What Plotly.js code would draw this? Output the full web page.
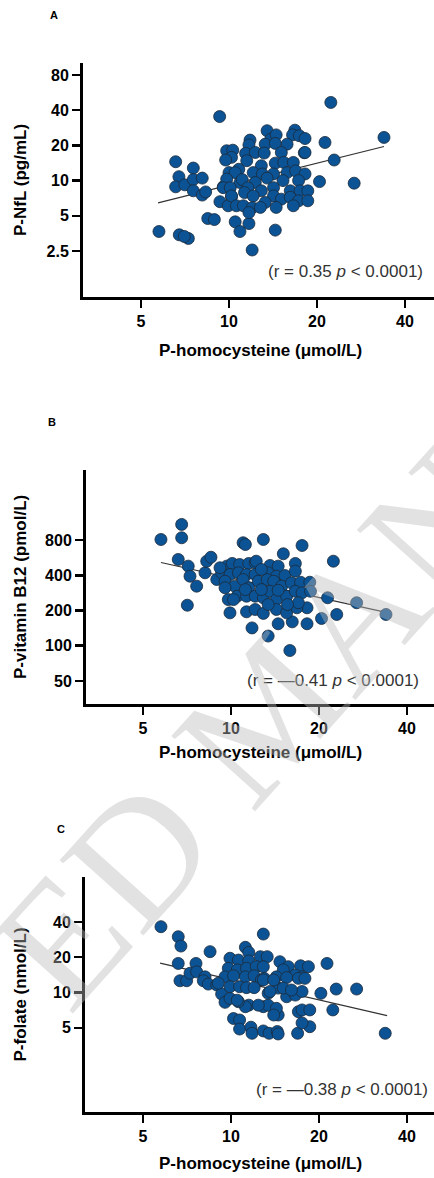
<!DOCTYPE html>
<html>
<head>
<meta charset="utf-8">
<script src="https://cdn.plot.ly/plotly-3.0.1.min.js"></script>
<style>html,body{margin:0;padding:0;background:#fff;}#chart{width:434px;height:1178px;}</style>
</head>
<body>
<div id="chart"></div>
<script>
// ---------- Panel A: P-homocysteine vs P-NfL ----------
const hcyA = [22.3, 9.29, 33.9, 21.3, 22.9, 26.8, 20.4, 18.1, 6.57, 7.55,
  6.74, 6.57, 7.06, 7.55, 8.10, 7.55, 8.10, 8.32, 5.76, 6.76,
  7.26, 7.03, 8.46, 8.91, 10.5, 10.9, 11.7, 14.4, 12.0, 9.56,
  9.31, 10.2, 9.94,
  13.5, 13.9, 14.5, 16.8, 16.5, 17.4, 18.2, 15.8, 11.8, 11.7,
  13.3, 14.4, 9.82, 10.3, 10.2, 9.74, 11.4, 12.3, 13.2, 15.1,
  18.2, 14.4, 15.4, 16.6, 11.5, 12.9, 10.8, 10.0, 10.5, 12.1,
  13.0, 14.2, 15.8, 16.9, 18.2, 17.3, 15.3, 13.5, 12.3, 10.9,
  11.1, 9.82, 9.56, 10.1, 11.6, 12.9, 14.2, 16.2, 17.5, 18.6,
  10.2, 11.3, 12.1, 14.2, 15.1, 16.2, 17.3, 18.6, 10.6, 11.2,
  12.0, 13.3, 12.8, 14.5, 16.6, 11.7];
const nflA = [46.6, 35.3, 23.4, 21.2, 15.0, 9.5, 9.8, 17.3, 14.5, 12.8,
  10.8, 8.85, 9.2, 10.2, 10.5, 8.18, 7.52, 8.0, 3.67, 3.44,
  3.20, 3.33, 4.74, 4.64, 4.44, 3.67, 4.29, 3.77, 2.55, 8.85,
  6.6, 7.3, 6.09,
  26.7, 22.6, 24.6, 27.0, 24.6, 24.2, 22.9, 20.5, 22.2, 20.2,
  20.5, 20.8, 18.0, 18.2, 15.8, 15.0, 17.1, 17.4, 17.2, 17.4,
  17.4, 14.1, 14.3, 14.3, 14.8, 13.4, 12.5, 11.7, 11.7, 11.7,
  11.4, 11.4, 11.7, 12.1, 11.4, 10.0, 10.0, 10.5, 9.63, 9.63,
  10.2, 10.3, 8.7, 8.7, 8.7, 8.18, 8.7, 8.18, 8.18, 8.18,
  7.4, 7.9, 7.4, 7.4, 6.94, 7.2, 6.72, 6.72, 6.09, 6.09,
  5.85, 6.5, 5.9, 5.9, 6.09, 5.33];
const fitA_x = [5.72, 33.9];
const fitA_y = [6.45, 19.6];

// ---------- Panel B: P-homocysteine vs P-vitamin B12 ----------
const hcyB = [6.78, 5.76, 6.78, 12.9, 11.0, 11.2, 17.5, 15.1, 22.4, 6.6,
  7.14, 7.24, 7.63, 8.15, 8.26, 8.54, 8.94, 7.09, 21.4, 26.9,
  33.9, 23.0, 20.4, 18.2, 18.2, 16.2, 14.5, 11.8, 13.4, 15.9,
  9.92, 11.3, 12.1, 12.9,
  9.67, 10.1, 10.7, 11.5, 12.1, 13.6, 14.5, 16.6, 9.29, 9.92,
  10.6, 11.3, 12.1, 13.4, 14.3, 15.3, 16.6, 9.54, 10.3, 11.0,
  11.5, 12.4, 13.3, 14.0, 14.9, 16.1, 17.3, 18.6, 9.79, 10.5,
  11.3, 12.1, 12.9, 13.6, 14.3, 15.5, 16.6, 17.5, 18.7, 14.5,
  14.3, 15.5, 16.8, 9.17, 12.2, 9.54, 10.2, 17.0, 12.7, 11.2,
  12.7, 15.6, 13.4];
const b12B = [1088, 809, 837, 809, 759, 733, 719, 611, 528, 546,
  479, 393, 323, 420, 528, 571, 368, 222, 257, 233,
  185, 185, 171, 154, 211, 160, 154, 142, 121, 91,
  191, 195, 204, 189,
  479, 505, 495, 505, 512, 485, 479, 505, 420, 406,
  420, 406, 406, 420, 393, 398, 434, 356, 323, 368,
  313, 356, 368, 356, 323, 345, 349, 349, 248, 265,
  265, 265, 257, 292, 248, 265, 292, 283, 292, 298,
  204, 191, 211, 464, 528, 313, 248, 233, 449, 302,
  302, 225, 225];
const fitB_x = [5.76, 34.2];
const fitB_y = [514, 192];

// ---------- Panel C: P-homocysteine vs P-folate ----------
const hcyC = [5.76, 6.6, 6.74, 12.9, 8.48, 11.2, 6.6, 7.59, 6.69, 7.05,
  7.24, 7.63, 8.15, 8.04, 8.36, 8.94, 9.29, 9.54, 21.3, 20.3,
  22.9, 26.9, 22.3, 33.7, 10.2, 10.7, 10.7, 11.7, 11.8, 12.9,
  13.5, 14.4, 14.5, 16.9, 18.6, 17.5, 17.0, 17.5, 14.5, 14.1,
  12.9, 13.4, 11.5, 11.2, 10.6,
  11.5, 9.92, 10.6, 11.5, 12.6, 13.3, 14.7, 15.7, 17.3, 18.4,
  9.79, 10.5, 11.3, 12.2, 12.9, 15.1, 16.6, 17.5, 9.54, 10.2,
  11.2, 12.0, 12.7, 13.0, 14.3, 15.5, 17.0, 17.9, 9.05, 9.92,
  10.7, 11.3, 12.0, 13.4, 14.5, 15.5, 16.6, 17.5, 9.92, 10.5,
  12.4, 14.3, 18.6, 14.0, 12.9, 14.0, 15.1, 16.1, 13.6];
const folC = [36.4, 29.9, 24.9, 31.5, 22.3, 24.3, 17.7, 17.7, 12.6, 12.6,
  14.6, 15.0, 13.6, 12.6, 11.8, 11.6, 9.7, 8.25, 17.7, 9.84,
  10.7, 10.7, 7.1, 4.49, 6.0, 5.83, 4.88, 5.06, 4.49, 4.7,
  4.49, 4.65, 4.43, 4.49, 5.11, 5.5, 6.86, 7.1, 6.43, 7.1,
  7.57, 7.8, 7.8, 7.57, 8.35,
  22.0, 19.6, 18.9, 18.6, 20.2, 20.2, 18.3, 16.6, 16.9, 16.6,
  16.1, 15.6, 16.1, 16.6, 16.6, 15.6, 14.1, 13.6, 13.6, 13.9,
  13.6, 13.9, 12.8, 13.2, 13.6, 13.4, 13.2, 13.2, 12.0, 11.2,
  11.2, 11.0, 11.0, 9.84, 10.9, 9.2, 9.5, 10.2, 8.9, 8.6,
  7.8, 7.33, 7.1, 6.43, 12.8, 12.8, 10.9, 10.5, 10.2];
const fitC_x = [5.72, 34.2];
const fitC_y = [17.8, 6.35];

// ---------- Tick labels & texts ----------
const xTicks = [5, 10, 20, 40];
const yTicksA = [2.5, 5, 10, 20, 40, 80];
const yTicksB = [50, 100, 200, 400, 800];
const yTicksC = [5, 10, 20, 40];
const xTitle = 'P-homocysteine (μmol/L)';
const yTitles = ['P-NfL (pg/mL)', 'P-vitamin B12 (pmol/L)', 'P-folate (nmol/L)'];
const panelLabels = ['A', 'B', 'C'];
const statTexts = ['(r = 0.35 <i>p</i> < 0.0001)', '(r = —0.41 <i>p</i> < 0.0001)', '(r = —0.38 <i>p</i> < 0.0001)'];
const watermark = 'ED MAN';

// ---------- Layout geometry (pixels) ----------
const W = 434, H = 1178;
const px = v => v / W, py = v => 1 - v / H;
const FONT = 'Liberation Sans, Arial, Helvetica, sans-serif';
const MARK = '#0b5394';

function pts(x, y, n) {
  return {x: x, y: y, type: 'scatter', mode: 'markers', xaxis: 'x' + n, yaxis: 'y' + n,
    marker: {size: 12, color: MARK, line: {color: '#1c2a3a', width: 0.8}}, hoverinfo: 'skip'};
}
function fit(x, y, n) {
  return {x: x, y: y, type: 'scatter', mode: 'lines', xaxis: 'x' + n, yaxis: 'y' + n,
    line: {color: '#333', width: 1.1}, hoverinfo: 'skip'};
}
const data = [
  fit(fitA_x, fitA_y, ''), pts(hcyA, nflA, ''),
  fit(fitB_x, fitB_y, '2'), pts(hcyB, b12B, '2'),
  fit(fitC_x, fitC_y, '3'), pts(hcyC, folC, '3')
];

const tickFont = {family: FONT, size: 16, color: '#000', weight: 'bold'};
function xax(left, xLeftPx, anchor) {
  const l10 = Math.log10(2);
  const r0 = Math.log10(5) - (left - xLeftPx) / 88 * l10;
  const r1 = r0 + (W - xLeftPx) / 88 * l10;
  return {type: 'log', domain: [px(xLeftPx), 1], range: [r0, r1], anchor: anchor,
    showline: true, linewidth: 3, linecolor: '#000', ticks: 'outside', ticklen: 8, tickwidth: 2.5,
    tickcolor: '#000', tickvals: xTicks, ticktext: xTicks.map(String), tickfont: tickFont,
    showgrid: false, zeroline: false, fixedrange: true};
}
function yax(topPx, botPx, range, vals, anchor) {
  return {type: 'log', domain: [py(botPx), py(topPx)], range: range, anchor: anchor,
    showline: true, linewidth: 3, linecolor: '#000', ticks: 'outside', ticklen: 8, tickwidth: 2.5,
    tickcolor: '#000', tickvals: vals, ticktext: vals.map(String), tickfont: tickFont,
    showgrid: false, zeroline: false, fixedrange: true};
}

const panels = [
  {top: 63, bot: 297, xTitleY: 350, yTitleX: 20, label: [54, 15], stat: [425, 271]},
  {top: 470, bot: 704, xTitleY: 752, yTitleX: 20, label: [52, 422], stat: [421, 680]},
  {top: 877, bot: 1112, xTitleY: 1163, yTitleX: 20, label: [61, 829], stat: [430, 1089]}
];

const annotations = [];
panels.forEach((p, i) => {
  annotations.push({text: panelLabels[i], xref: 'paper', yref: 'paper', x: px(p.label[0]), y: py(p.label[1]),
    xanchor: 'center', yanchor: 'middle', showarrow: false, font: {family: FONT, size: 11, color: '#000', weight: 'bold'}});
  annotations.push({text: xTitle, xref: 'paper', yref: 'paper', x: px(260), y: py(p.xTitleY),
    xanchor: 'center', yanchor: 'middle', showarrow: false, font: {family: FONT, size: 17, color: '#000', weight: 'bold'}});
  annotations.push({text: yTitles[i], xref: 'paper', yref: 'paper', x: px(p.yTitleX), y: py((p.top + p.bot) / 2),
    xanchor: 'center', yanchor: 'middle', textangle: -90, showarrow: false, font: {family: FONT, size: 17, color: '#000', weight: 'bold'}});
  annotations.push({text: statTexts[i], xref: 'paper', yref: 'paper', x: px(p.stat[0]), y: py(p.stat[1]),
    xanchor: 'right', yanchor: 'middle', showarrow: false, font: {family: FONT, size: 17, color: '#333'}});
});
// watermark of the source document (drawn over the plot, semi-transparent)
annotations.push({text: watermark, xref: 'paper', yref: 'paper', x: px(252), y: py(728),
  xanchor: 'center', yanchor: 'middle', textangle: -48, showarrow: false,
  font: {family: 'Liberation Serif, Times New Roman, serif', size: 172, color: 'rgba(185,185,185,0.42)'}});

const layout = {
  width: W, height: H, margin: {l: 0, r: 0, t: 0, b: 0}, showlegend: false,
  paper_bgcolor: '#fff', plot_bgcolor: 'rgba(0,0,0,0)',
  xaxis: xax(141, 83, 'y'),
  yaxis: yax(63, 297, [0.0045, 2.0057], yTicksA, 'x'),
  xaxis2: xax(143, 86, 'y2'),
  yaxis2: yax(470, 704, [1.502, 3.502], yTicksB, 'x2'),
  xaxis3: xax(143, 85, 'y3'),
  yaxis3: yax(877, 1112, [-0.019, 1.985], yTicksC, 'x3'),
  annotations: annotations
};

Plotly.newPlot('chart', data, layout, {staticPlot: true, displayModeBar: false});
</script>
</body>
</html>
